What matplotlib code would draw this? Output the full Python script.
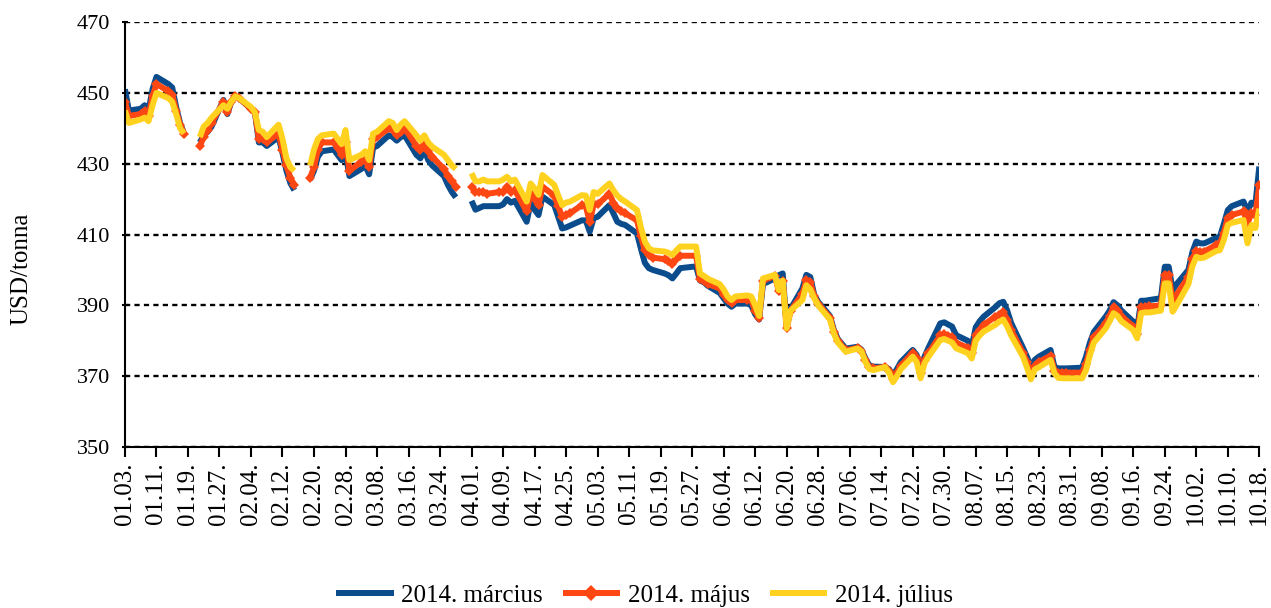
import numpy as np
import pandas as pd
import matplotlib
matplotlib.use("Agg")
import matplotlib.pyplot as plt

YEAR = 2013

# trading days (month.day); None = no quotation (holiday gap)
dates = [
    "01.03", "01.04", "01.07", "01.08", "01.09", "01.10", "01.11", "01.14", "01.15", "01.16", "01.17", "01.18", "01.21",
    "01.22", "01.23", "01.24", "01.25", "01.28", "01.29", "01.30", "01.31", "02.01", "02.04", "02.05", "02.06", "02.07", "02.08",
    "02.11", "02.12", "02.13", "02.14", "02.15", "02.18",
    "02.19", "02.20", "02.21", "02.22", "02.25", "02.26", "02.27", "02.28", "03.01", "03.04", "03.05", "03.06", "03.07", "03.08",
    "03.11", "03.12", "03.13", "03.14", "03.15", "03.18", "03.19", "03.20", "03.21", "03.22", "03.25", "03.26", "03.27", "03.28", "03.29",
    "04.01", "04.02", "04.03", "04.04", "04.05", "04.08", "04.09", "04.10", "04.11", "04.12", "04.15", "04.16", "04.17", "04.18", "04.19",
    "04.22", "04.23", "04.24", "04.25", "04.26", "04.29", "04.30", "05.01", "05.02", "05.03", "05.06", "05.07", "05.08", "05.09", "05.10",
    "05.13", "05.14", "05.15", "05.16", "05.17", "05.20", "05.21", "05.22", "05.23", "05.24", "05.28", "05.29", "05.30", "05.31",
    "06.03", "06.04", "06.05", "06.06", "06.07", "06.10", "06.11", "06.12", "06.13", "06.14", "06.17", "06.18", "06.19", "06.20", "06.21",
    "06.24", "06.25", "06.26", "06.27", "06.28", "07.01", "07.02", "07.03", "07.05", "07.08", "07.09", "07.10", "07.11", "07.12",
    "07.15", "07.16", "07.17", "07.18", "07.19", "07.22", "07.23", "07.24", "07.25", "07.26", "07.29", "07.30", "07.31", "08.01", "08.02",
    "08.05", "08.06", "08.07", "08.08", "08.09", "08.12", "08.13", "08.14", "08.15", "08.16", "08.19", "08.20", "08.21", "08.22", "08.23",
    "08.26", "08.27", "08.28", "08.29", "08.30", "09.03", "09.04", "09.05", "09.06", "09.09", "09.10", "09.11", "09.12", "09.13",
    "09.16", "09.17", "09.18", "09.19", "09.20", "09.23", "09.24", "09.25", "09.26", "09.27", "09.30", "10.01", "10.02", "10.03", "10.04",
    "10.07", "10.08", "10.09", "10.10", "10.11", "10.14", "10.15", "10.16", "10.17", "10.18",
]

marcius = [
    451, 445, 445.5, 446.5, 445, 451, 454.5, 452.5, 451.5, 446, 441.5, 438.5, None,
    436, 438, 439, 440.5, 448, 444, 447.5, 449, 448.5, 445.5, 444.5, 436, 436, 435,
    437.5, 433, 428, 424.5, 422.5, None,
    425.5, 428, 432, 433.5, 434, 432.5, 431, 433, 426.5, 428.5, 429.5, 427, 434.5, 435,
    438, 437.5, 436.5, 437.5, 438, 432.5, 431.5, 434, 431, 429.5, 426.5, 424, 422, 420.5, None,
    419.5, 417, 417.5, 418, 418, 418, 418.5, 420, 419, 419.5, 413.6, 419, 417, 415.5, 420.7,
    418.3, 415, 411.7, 412, 412.5, 414, 414, 410.8, 414.6, 415, 418.3, 416, 413.6, 413, 412.7,
    410.3, 406, 402, 400.5, 400, 399, 398.5, 397.6, 399, 400.5, 401, 397, 396.5, 395.5,
    393.5, 392, 390.5, 389.6, 390.5, 390.5, 390, 387.5, 386, 396, 397.6, 398.5, 399, 384, 389,
    394.8, 398.6, 398, 393, 391, 387, 383, 380.5, 377.8, 378.3, 377.5, 375, 373, 372.7,
    372.6, 372, 370.2, 372, 374, 377.4, 376, 372.5, 375.5, 378, 384.9, 385.2, 384.6, 384, 381.6,
    380, 378.4, 383.8, 385.5, 386.8, 389.5, 390.6, 391, 388.5, 385, 378, 375.5, 372.7, 374.6, 375.5,
    377.4, 372.6, 372.2, 372.2, 372.2, 372.4, 375.5, 379.5, 382.5, 386.8, 388.5, 390.9, 390, 388.5,
    385.4, 383.5, 391.3, 391.3, 391.5, 392, 400.9, 400.9, 394.3, 396, 400, 405, 408, 407.5, 407.5,
    409, 409.4, 413, 416.9, 418, 419.3, 416.5, 419, 418.5, 429.2,
]

majus = [
    447.5, 443.5, 444, 445, 443.5, 449, 452.5, 450.5, 449.5, 445, 441, 438.5, None,
    435, 437.5, 439.5, 441.5, 447.5, 444.5, 447.5, 449, 448.5, 445.5, 444.5, 437, 437, 436,
    438.5, 434, 429.5, 426, 424, None,
    426, 429, 434, 436, 436, 434.5, 432.5, 436, 428, 430.5, 431, 429, 437, 437.5,
    440, 439.5, 438, 439, 440, 435, 434, 436, 433.5, 432, 428.5, 426.5, 425, 423.5, None,
    423.5, 422, 422, 422, 421.5, 422, 422, 423.5, 422, 422.5, 416.5, 421.8, 420, 418.3, 423.5,
    421, 418, 415, 415.5, 416, 418.3, 418, 413.6, 418.5, 418.5, 421.5, 419, 417.5, 416.5, 416,
    414, 409.5, 405.5, 404.2, 403.5, 403, 402.5, 401.8, 403, 404, 404, 397.5, 397, 396,
    394.8, 393, 391.5, 390.6, 391.5, 391.5, 391.5, 388.5, 386.5, 397, 398.3, 394, 397, 383.5, 388.5,
    393.2, 397.2, 396.5, 392.5, 390.5, 386.5, 382.5, 380, 377.3, 378, 377.2, 374.5, 372.5, 372.2,
    372.6, 371.5, 369.3, 371, 373, 376.6, 375, 371, 374.5, 376.5, 381.5, 381.8, 381.3, 381, 379.5,
    378, 376.5, 381.5, 383, 384.5, 386.8, 387.3, 388, 386, 383, 376.5, 374, 370.8, 373, 374,
    375.8, 371.5, 371, 371, 371, 371, 373.5, 377.5, 381, 385, 387, 389.5, 388.5, 387,
    384, 382, 389.5, 389.5, 389.7, 390, 398.6, 398.6, 391, 393, 398, 403, 405.4, 405, 405.2,
    407, 407.5, 410.5, 414.8, 415.5, 416.5, 413.2, 416, 415.5, 424,
]

julius = [
    445, 441.5, 442.5, 443, 442, 446.5, 450, 448.5, 447.5, 444, 440, 438.5, None,
    437.5, 440.5, 441.5, 443, 446.5, 445.5, 447.5, 449, 448.5, 446, 444.5, 439.5, 439, 437.5,
    441, 437, 431.5, 429, 428, None,
    429.5, 434, 437, 438, 438.5, 437, 435.5, 439.5, 431, 432.5, 433.5, 431, 438.5, 439,
    442, 441.5, 439.5, 441, 442, 438, 436.5, 438, 436, 434.8, 432.5, 431, 429.5, 428.5, None,
    427.3, 425, 425, 425.5, 425, 425, 425.5, 426.3, 425, 425.5, 419.3, 424.4, 423, 421.2, 426.8,
    424, 421, 418.3, 419, 419.3, 421.1, 421, 416.9, 422, 421.5, 424.4, 422.5, 421, 420, 419.3,
    416.9, 412, 408, 406.1, 405.5, 405.2, 404.8, 404.2, 405.5, 406.6, 406.6, 399, 398.3, 397.5,
    396, 394.5, 392.5, 391.5, 392.5, 392.8, 392.5, 390, 387, 397.6, 398.6, 394.3, 397, 383.5, 388.5,
    391.5, 395.7, 394.5, 392, 390, 386, 382, 379.5, 376.9, 377.8, 377, 374, 372, 371.7,
    372.6, 371, 368.3, 370, 372, 375.5, 374, 369.4, 373.6, 375.5, 380.2, 380.5, 380, 379.5, 377.9,
    376.5, 375, 380, 381.5, 382.6, 384.5, 385.4, 386, 384, 381.5, 375.5, 372.5, 369.1, 371.9, 372.5,
    374.6, 370.8, 369.5, 369.4, 369.4, 369.4, 371.7, 376, 379.5, 383.5, 385.5, 387.8, 387, 385.5,
    383, 380.7, 387.8, 388, 388, 388.5, 396.2, 396.2, 388.2, 390, 396, 401, 403.7, 403.3, 403.5,
    405.3, 405.6, 408.5, 412.7, 413.3, 414.1, 407.5, 412.7, 411.8, 417.3,
]

series_names = ["2014. március", "2014. május", "2014. július"]
tick_labels = [
    "01.03", "01.11", "01.19", "01.27", "02.04", "02.12", "02.20", "02.28", "03.08", "03.16",
    "03.24", "04.01", "04.09", "04.17", "04.25", "05.03", "05.11", "05.19", "05.27", "06.04",
    "06.12", "06.20", "06.28", "07.06", "07.14", "07.22", "07.30", "08.07", "08.15", "08.23",
    "08.31", "09.08", "09.16", "09.24", "10.02", "10.10", "10.18",
]
y_ticks = [350, 370, 390, 410, 430, 450, 470]


def to_dates(labels):
    return pd.to_datetime([f"{YEAR}.{d}" for d in labels], format="%Y.%m.%d")


def to_array(vals):
    return np.array([np.nan if v is None else v for v in vals], dtype=float)


def main():
    plt.rcParams["font.family"] = ["Liberation Serif", "DejaVu Serif"]

    fig = plt.figure(figsize=(12.71, 6.08), dpi=100)
    ax = fig.add_axes([0.0983, 0.2648, 0.8925, 0.699])

    x = to_dates(dates)
    colors = ["#0B4C8C", "#FF4713", "#FFD21F"]
    for vals, name, color in zip([marcius, majus, julius], series_names, colors):
        assert len(vals) == len(dates)
        kw = dict(color=color, lw=4.3, label=name, solid_joinstyle="round", solid_capstyle="butt")
        if name.endswith("május"):
            kw.update(marker="D", ms=5, mew=0)
        ax.plot(x, to_array(vals), **kw)

    ax.set_xlim(pd.Timestamp(f"{YEAR}-01-03"), pd.Timestamp(f"{YEAR}-10-18"))
    ax.set_ylim(350, 470)
    ax.set_yticks(y_ticks)
    ax.set_xticks(to_dates(tick_labels))
    ax.set_xticklabels([t + "." for t in tick_labels], rotation=90)

    ax.grid(axis="y", color="black", lw=1.7, linestyle=(0, (2.2, 1.8)))
    ax.set_axisbelow(True)
    for side in ["top", "right"]:
        ax.spines[side].set_visible(False)
    for side in ["left", "bottom"]:
        ax.spines[side].set_linewidth(1.5)

    ax.tick_params(axis="y", direction="inout", length=5, width=1.5, labelsize=16, pad=8)
    ax.tick_params(axis="x", direction="out", length=7, width=1.5, labelsize=18, pad=4)

    ax.set_ylabel("USD/tonna", fontsize=18)
    ax.yaxis.set_label_coords(-0.0817, 0.42)

    fig.legend(loc="lower center", bbox_to_anchor=(0.507, -0.035), ncol=3, frameon=False,
               fontsize=18, handlelength=2.3, columnspacing=0.8, handletextpad=0.3,
               markerscale=1.6)

    fig.savefig("out.png", dpi=100)
    plt.close(fig)


if __name__ == "__main__":
    main()
